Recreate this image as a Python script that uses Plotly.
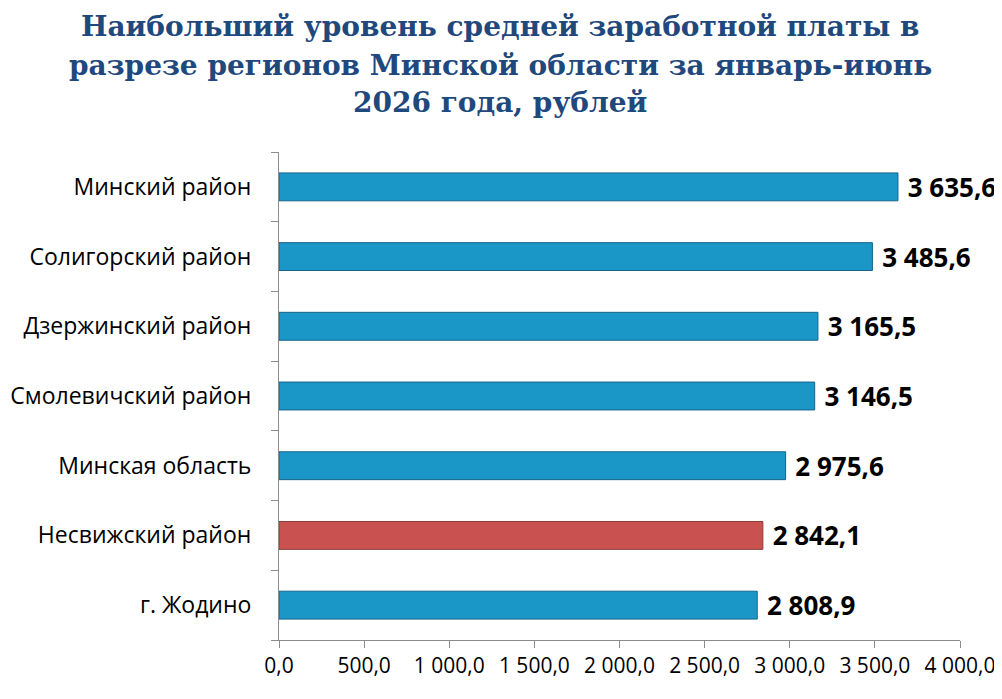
import plotly.graph_objects as go

regions = [
    "Минский район",
    "Солигорский район",
    "Дзержинский район",
    "Смолевичский район",
    "Минская область",
    "Несвижский район",
    "г. Жодино",
]
salary = [3635.6, 3485.6, 3165.5, 3146.5, 2975.6, 2842.1, 2808.9]
highlight = "Несвижский район"

x_ticks = [0, 500, 1000, 1500, 2000, 2500, 3000, 3500, 4000]

title_lines = [
    "Наибольший уровень средней заработной платы в",
    "разрезе регионов Минской области за январь-июнь",
    "2026 года, рублей",
]

blue = "#1a97c6"
red = "#c9514f"

# top-to-bottom order -> numeric positions so boundary ticks can be drawn
pos = list(range(len(regions)))[::-1]
colors = [red if r == highlight else blue for r in regions]
edge = ["#8c3a38" if r == highlight else "#17648a" for r in regions]

fig = go.Figure(go.Bar(
    x=salary, y=pos,
    orientation="h",
    width=0.4,
    marker=dict(color=colors, line=dict(color=edge, width=1)),
    texttemplate=" %{x:,.1f}",
    textposition="outside",
    constraintext="none",
    textfont=dict(family="Open Sans", size=26, color="black", weight="bold"),
    cliponaxis=False,
    hoverinfo="skip",
))

# the page adds an 8px body margin, so the layout is offset by that
ml, mr, mt, mb = 271, 50, 144, 67
plot_w = 1002 - ml - mr
plot_h = 699 - mt - mb

# title as three lines, placed above the plot area in pixels
title_y = [18, 57, 95]
title_cx = 492
for line, py in zip(title_lines, title_y):
    fig.add_annotation(
        text=line, xref="paper", yref="paper",
        x=0.5, y=1 + (mt - py) / plot_h,
        xanchor="center", yanchor="middle", showarrow=False,
        xshift=title_cx - (ml + plot_w / 2),
        font=dict(family="DejaVu Serif", size=28, color="#1f487c", weight="bold"),
    )

fig.update_layout(
    width=1002, height=699,
    paper_bgcolor="white", plot_bgcolor="white",
    separators=", ",
    showlegend=False,
    margin=dict(l=ml, r=mr, t=mt, b=mb),
    bargap=0.6,
)

fig.update_xaxes(
    range=[0, 4000],
    tickvals=x_ticks,
    tickformat=",.1f",
    showgrid=False, zeroline=False,
    showline=True, linecolor="#8c8c8c", linewidth=1,
    ticks="outside", ticklen=7, tickcolor="#8c8c8c",
    tickfont=dict(family="Open Sans", size=21, color="black"),
    automargin=False,
)
fig.update_yaxes(
    range=[-0.5, len(regions) - 0.5],
    tickvals=pos, ticktext=regions,
    showgrid=False, zeroline=False,
    showline=True, linecolor="#8c8c8c", linewidth=1,
    ticks="", ticklen=0,
    minor=dict(tickvals=[p - 0.5 for p in range(len(regions) + 1)],
               ticks="outside", ticklen=7, tickcolor="#8c8c8c", showgrid=False),
    tickfont=dict(family="Open Sans", size=23, color="black"),
    ticklabelstandoff=22,
    automargin=False,
)

fig.write_html("out.html")
